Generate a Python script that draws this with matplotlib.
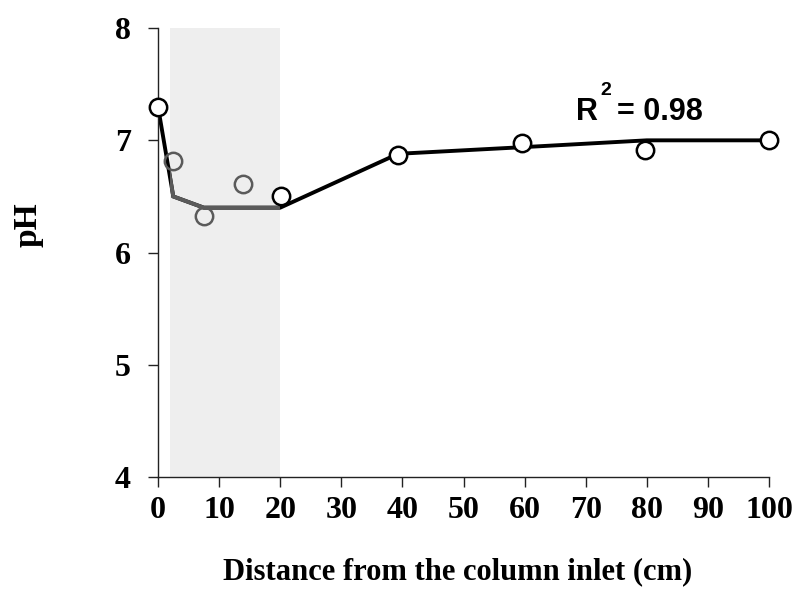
import numpy as np
import matplotlib
matplotlib.use("Agg")
import matplotlib.pyplot as plt
from matplotlib.patches import Rectangle

# measured pH along the column
dist = [0, 2.5, 7.5, 13.9, 20.2, 39.3, 59.6, 79.7, 100]
ph = [7.30, 6.82, 6.33, 6.61, 6.50, 6.87, 6.98, 6.91, 7.00]
# points sitting in the shaded zone are drawn grey
in_zone = [False, True, True, True, False, False, False, False, False]

# fitted curve
fit_x = [0, 2.5, 7.5, 20, 39.3, 60, 80, 100]
fit_y = [7.30, 6.50, 6.40, 6.40, 6.88, 6.94, 7.00, 7.00]

zone = (2, 20)
r2_value = "= 0.98"

GREY = "#5a5a5a"

fig = plt.figure(figsize=(7.96, 5.93), dpi=100)
ax = fig.add_axes([0.1985, 0.1956, 0.7676, 0.757])

ax.axvspan(zone[0], zone[1], color="#eeeeee", lw=0, zorder=0)

# fit line: black outside the zone, grey inside
ax.plot(fit_x, fit_y, color="black", lw=2.8, zorder=2, solid_joinstyle="miter")
grey_line, = ax.plot(fit_x, fit_y, color=GREY, lw=2.8, zorder=3, solid_joinstyle="miter")
clip = Rectangle((zone[0], 0), zone[1] - zone[0], 20, transform=ax.transData)
grey_line.set_clip_path(clip)

for x, y, g in zip(dist, ph, in_zone):
    ax.plot(x, y, "o", ms=12.5, mfc="none" if g else "white",
            mec=GREY if g else "black", mew=1.8, zorder=4, clip_on=False)

# R^2 label, superscript drawn as its own small text
t_r = ax.text(68.4, 7.18, "R", fontsize=22, fontweight="bold",
              family="Liberation Sans", ha="left", va="baseline")
ax.annotate("2", xy=(1, 1), xycoords=t_r, xytext=(1.5, -1),
            textcoords="offset points", fontsize=14, fontweight="bold",
            family="Liberation Sans", ha="left", va="bottom")
ax.annotate(r2_value, xy=(1, 0), xycoords=t_r, xytext=(14, 0),
            textcoords="offset points", fontsize=22, fontweight="bold",
            family="Liberation Sans", ha="left", va="bottom")

ax.set_xlim(0, 100)
ax.set_ylim(4, 8)
ax.set_xticks(np.arange(0, 101, 10))
ax.set_yticks([4, 5, 6, 7, 8])

for s in ["top", "right"]:
    ax.spines[s].set_visible(False)
for s in ["left", "bottom"]:
    ax.spines[s].set_linewidth(1.0)
    ax.spines[s].set_color("#222222")

ax.tick_params(direction="out", length=7.2, width=1.0, color="#222222")
ax.tick_params(axis="x", pad=6.5)
ax.tick_params(axis="y", pad=12.5)
for lab in ax.get_xticklabels() + ax.get_yticklabels():
    lab.set_fontfamily("Liberation Serif")
    lab.set_fontweight("bold")
    lab.set_fontsize(23)

ax.set_xlabel("Distance from the column inlet (cm)", family="Liberation Serif",
              fontweight="bold", fontsize=22)
ax.set_ylabel("pH", family="Liberation Serif", fontweight="bold", fontsize=24)
ax.xaxis.set_label_coords(0.491, -0.178)
ax.yaxis.set_label_coords(-0.188, 0.563)

fig.savefig("out.png", dpi=100)
